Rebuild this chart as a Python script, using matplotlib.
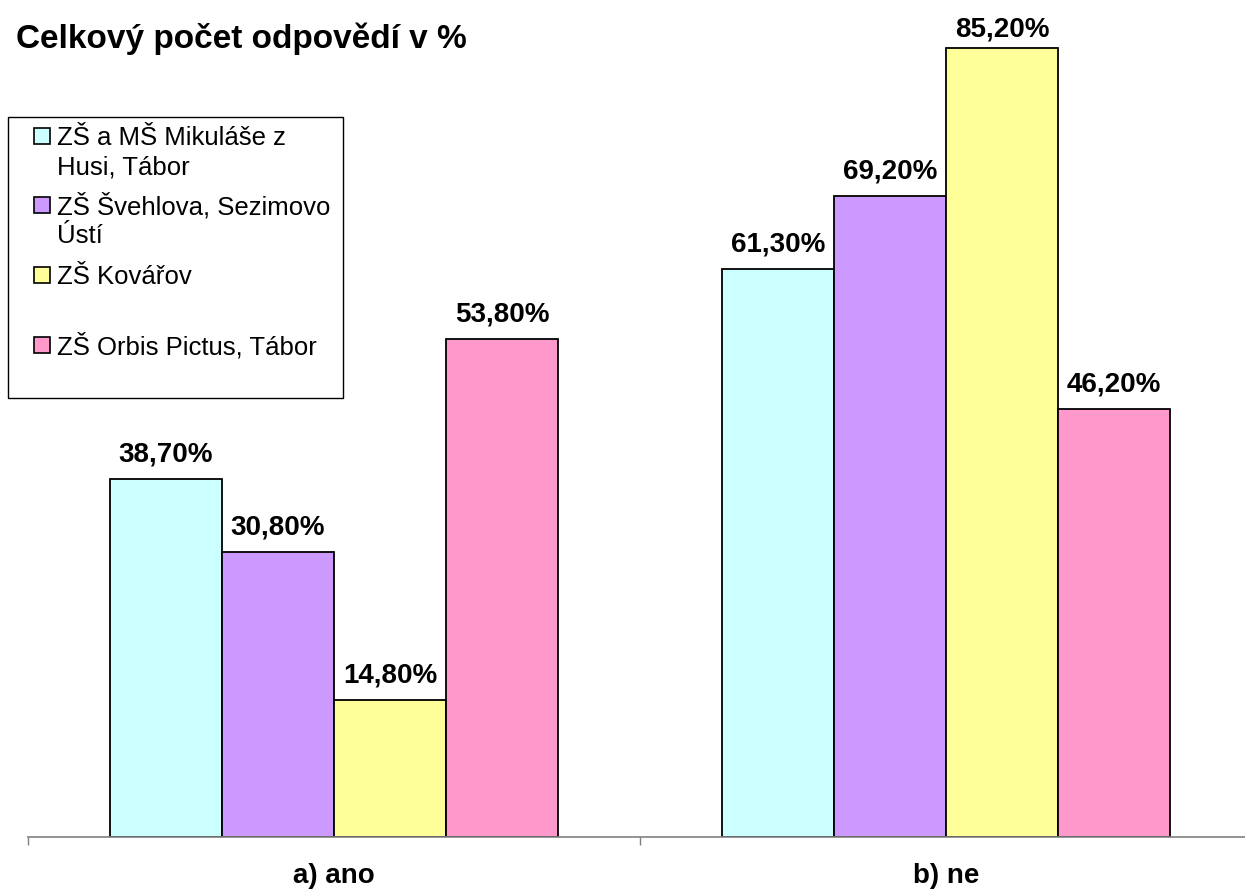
# -*- coding: utf-8 -*-

'''
    Celkový počet odpovědí v % - sloupcový graf podle škol
'''

import matplotlib
matplotlib.use("Agg")
import matplotlib.pyplot as plt
from matplotlib.patches import Rectangle
from matplotlib.transforms import blended_transform_factory
import numpy as np

# data
kategorie = ["a) ano", "b) ne"]
skoly = ["ZŠ a MŠ Mikuláše z\nHusi, Tábor",
         "ZŠ Švehlova, Sezimovo\nÚstí",
         "ZŠ Kovářov",
         "ZŠ Orbis Pictus, Tábor"]
hodnoty_ano = [38.7, 30.8, 14.8, 53.8]
hodnoty_ne = [61.3, 69.2, 85.2, 46.2]
popisky_ano = ["38,70%", "30,80%", "14,80%", "53,80%"]
popisky_ne = ["61,30%", "69,20%", "85,20%", "46,20%"]
barvy = ["#CCFFFF", "#CC99FF", "#FFFF99", "#FF99CC"]

W, H = 1245, 890
plt.rcParams['font.family'] = ['Liberation Sans', 'DejaVu Sans']

fig = plt.figure(figsize=(W / 100.0, H / 100.0), dpi=100)
# osa: zacatek x=28px, 612px na kategorii, nula na y=837px, 9.26px na 1 %
ax = fig.add_axes([28.0 / W, 53.0 / H, 1224.0 / W, 833.4 / H])
ax.set_xlim(-0.5, 1.5)
ax.set_ylim(0, 90)

x = np.arange(len(kategorie))
sirka = 0.183
data = [[hodnoty_ano[i], hodnoty_ne[i]] for i in range(len(skoly))]
popisky = [[popisky_ano[i], popisky_ne[i]] for i in range(len(skoly))]

for i in range(len(skoly)):
    pos = x + (i - 1.5) * sirka
    ax.bar(pos, data[i], width=sirka, color=barvy[i], edgecolor="black",
           linewidth=1.3, zorder=2)
    for j in range(len(kategorie)):
        # popisek nad sloupcem, u nejvyssiho omezeny hornim okrajem
        y = min(data[i][j] + 1.9, 86.4)
        ax.text(pos[j], y, popisky[i][j], ha="center", va="baseline",
                fontsize=20, fontweight="bold", color="black")

for s in ["top", "right", "left"]:
    ax.spines[s].set_visible(False)
ax.spines["bottom"].set_color("#808080")
ax.spines["bottom"].set_linewidth(1.2)
ax.set_yticks([])
ax.set_xticks([-0.5, 0.5, 1.5])
ax.set_xticklabels([])
ax.tick_params(axis="x", direction="out", length=5.8, width=1.0, color="#808080")

# nazvy kategorii pod osou
trans = blended_transform_factory(ax.transData, fig.transFigure)
for j in range(len(kategorie)):
    ax.text(x[j], (H - 883.0) / H, kategorie[j], transform=trans, ha="center",
            va="baseline", fontsize=20, fontweight="bold", clip_on=False)

# titulek
fig.text(16.0 / W, (H - 48.0) / H, "Celkový počet odpovědí v %", ha="left",
         va="baseline", fontsize=24, fontweight="bold")

# legenda rucne (ramecek + ctverecky + text)
fig.patches.append(Rectangle((8.0 / W, (H - 398.0) / H), 335.0 / W, 281.0 / H,
                             transform=fig.transFigure, facecolor="white",
                             edgecolor="black", linewidth=1.0))
stredy = [136, 205, 275, 345]
for i in range(len(skoly)):
    yc = stredy[i]
    fig.patches.append(Rectangle((34.0 / W, (H - yc - 8.0) / H), 16.0 / W, 16.0 / H,
                                 transform=fig.transFigure, facecolor=barvy[i],
                                 edgecolor="black", linewidth=1.2))
    for k, radek in enumerate(skoly[i].split("\n")):
        fig.text(57.0 / W, (H - (yc + 29 * k + 9.0)) / H, radek, ha="left",
                 va="baseline", fontsize=18.5)

fig.savefig("out.png", dpi=100)
